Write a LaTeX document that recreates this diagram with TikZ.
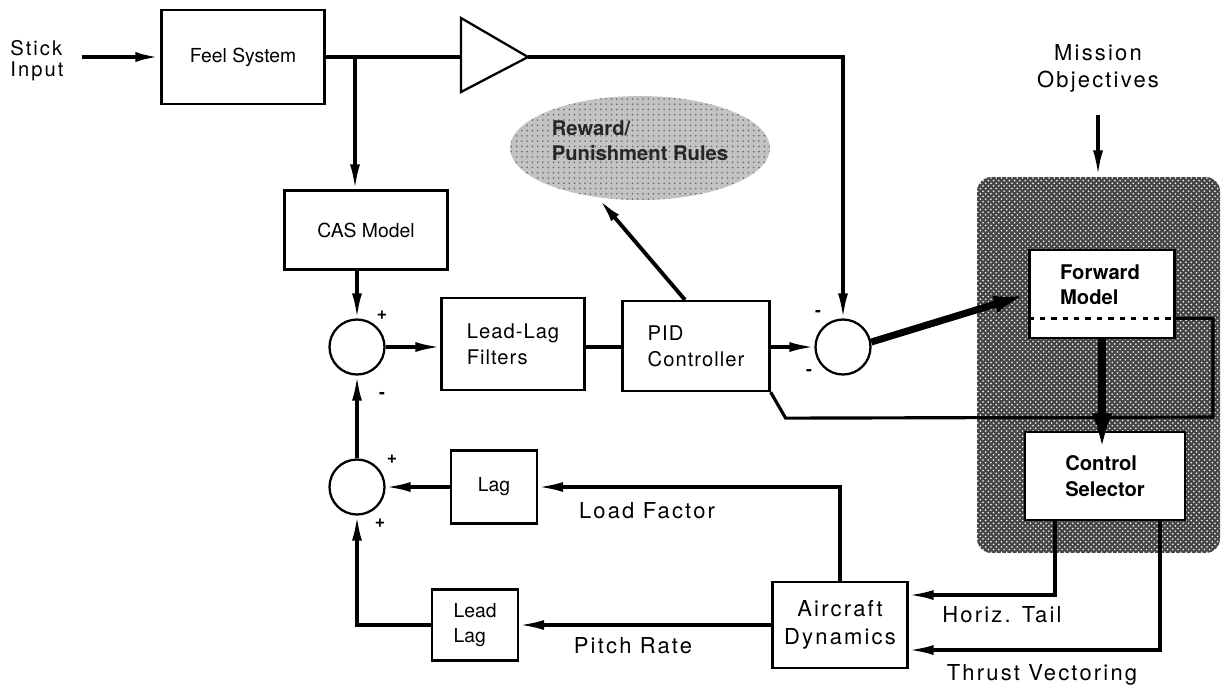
\documentclass[tikz,border=0pt]{standalone}
\usepackage{fontspec}
\setmainfont{TeX Gyre Heros}
\newfontfamily\widefont[LetterSpace=10]{TeX Gyre Heros}
\newfontfamily\boxfont[LetterSpace=5]{TeX Gyre Heros}
\usepackage{tikz}
\usetikzlibrary{arrows.meta,calc,shapes.geometric,patterns}
\definecolor{shadegray}{RGB}{70,70,70}
\definecolor{cloudgray}{RGB}{195,195,195}

\begin{document}
\begin{tikzpicture}[x=0.02cm,y=-0.02cm,>={Latex[length=5mm,width=2mm]},line width=1.8pt,
  blk/.style={draw,line width=1.3pt,inner sep=2pt,font=\fontsize{11}{14}\selectfont},
  sumnode/.style={draw,circle,line width=1.3pt,minimum size=1.1cm,inner sep=0pt},
  sign/.style={inner sep=0pt,font=\bfseries\fontsize{10}{10}\selectfont},
  lbl/.style={inner sep=1pt,font={\fontsize{12.5}{15.4}\widefont}},
  heavy/.style={line width=4pt,-{Latex[length=7mm,width=3.5mm]}}]
\useasboundingbox (0,0) rectangle (1222,684);

% shaded blocks in the back
\node[rectangle,fill=shadegray,rounded corners=8pt,minimum width=4.86cm,minimum height=7.52cm,
  postaction={pattern=crosshatch dots,pattern color=white}] (shade) at (1098.5,365) {};
\node[ellipse,fill=cloudgray,minimum width=5.2cm,minimum height=2.08cm,
  postaction={pattern=dots,pattern color=black!60}] (reward) at (640,148) {};
\node[align=left,font=\bfseries\fontsize{11.5}{14}\selectfont,text=black!85] (rewardtxt) at (640,141) {Reward/\\Punishment Rules};

% forward path
\node[lbl,align=left,font={\fontsize{11.5}{12}\widefont}] (stick) at (37,61) {Stick\\Input};
\node[blk,minimum width=3.26cm,minimum height=1.88cm] (feel) at (243,57) {Feel System};
\draw[line width=1.3pt] (461,18) -- (528,57) -- (461,92) -- cycle;
\coordinate (ampin) at (461,57); \coordinate (ampout) at (528,57);
\coordinate (split) at (355,57);
\node[blk,minimum width=3.26cm,minimum height=1.58cm] (cas) at (366,230) {CAS Model};
\node[sumnode] (sum1) at (357,347) {};
\node[blk,align=left,font={\fontsize{11.5}{15}\boxfont},minimum width=2.86cm,minimum height=1.84cm] (filt) at (513,344) {Lead-Lag\\Filters};
\node[blk,align=left,font={\fontsize{11.5}{15}\boxfont},minimum width=2.94cm,minimum height=1.8cm] (pid) at (696,346) {PID\\Controller};
\node[sumnode] (sum2) at (843,347) {};

% reconfiguration blocks
\node[blk,fill=white,minimum width=2.9cm,minimum height=1.76cm] (fwd) at (1102,294) {};
\node[align=left,font=\bfseries\fontsize{11.5}{14}\selectfont] (fwdtxt) at (1100,285) {Forward\\Model};
\coordinate (dotw) at ($(fwd.south west)!0.23!(fwd.north west)$);
\coordinate (dote) at ($(fwd.south east)!0.23!(fwd.north east)$);
\coordinate (fbr) at (1213,417);
\node[blk,fill=white,align=left,font=\bfseries\fontsize{11.5}{15}\selectfont,
  minimum width=3.2cm,minimum height=1.76cm] (ctrl) at (1105,476) {Control\\Selector};
\node[lbl,align=center] (mission) at (1098,68) {Mission\\Objectives};

% feedback path
\node[blk,align=center,font={\fontsize{12.5}{16}\widefont},minimum width=2.7cm,minimum height=1.72cm] (acdyn) at (840,625) {Aircraft\\Dynamics};
\node[blk,minimum width=1.72cm,minimum height=1.46cm] (lag) at (494,487) {Lag};
\node[blk,align=left,minimum width=1.72cm,minimum height=1.42cm] (ll) at (475,625) {Lead\\Lag};
\node[sumnode] (sum3) at (357,487) {};

% signs
\node[sign] (s1p) at ([shift={(25,-32)}]sum1) {+};
\node[sign] (s1m) at ([shift={(25,48)}]sum1) {-};
\node[sign] (s2ma) at ([shift={(-25,-34)}]sum2) {-};
\node[sign] (s2mb) at ([shift={(-34,25)}]sum2) {-};
\node[sign] (s3pa) at ([shift={(35,-28)}]sum3) {+};
\node[sign] (s3pb) at ([shift={(23,36)}]sum3) {+};

% labels
\node[lbl,anchor=base] (loadf) at (647,518) {Load Factor};
\node[lbl,anchor=base] (pitchr) at (633,653) {Pitch Rate};
\node[lbl,anchor=base] (htail) at (1002,622) {Horiz. Tail};
\node[lbl,anchor=base] (thrust) at (1042,680) {Thrust Vectoring};

% connectors
\draw[->,line width=2.2pt,shorten <=0.3cm] (stick.east |- feel.west) -- (feel.west);
\draw (feel.east) -- (ampin);
\draw[->] (split) -- (split |- cas.north);
\draw[->] (ampout) -| (sum2.north);
\draw[->] (sum1.north |- cas.south) -- (sum1.north);
\draw[->] (sum1.east) -- (sum1.east -| filt.west);
\draw (filt.east |- sum1.east) -- (sum1.east -| pid.west);
\draw[->] (pid.east |- sum2.west) -- (sum2.west);
\draw[->,line width=2.2pt] ([xshift=-0.22cm]pid.north) -- (reward.231);
\draw[heavy] (sum2.10) -- (fwd.west);
\draw (pid.south east) -- ++(15,26) -- (fbr) |- (dote);
\draw[line width=2pt,dash pattern=on 3pt off 3.5pt] (dotw) -- (dote);
\draw[heavy,line width=5pt,-{Latex[length=8mm,width=4mm]},shorten >=-0.45cm] (fwd.south) -- (fwd.south |- ctrl.north);
\draw[->,shorten <=0.4cm] (mission.south) -- (mission.south |- shade.north);
\draw[->] ([xshift=-1cm]ctrl.south) |- ([yshift=0.6cm]acdyn.east);
\draw[->] ([xshift=1.1cm]ctrl.south) |- ([yshift=-0.5cm]acdyn.east);
\draw[->] (acdyn.north) |- (lag.east);
\draw[->] (lag.west) -- (sum3.east);
\draw[->] (acdyn.west) -- (ll.east);
\draw[->] (ll.west) -| (sum3.south);
\draw[->] (sum3.north) -- (sum1.south);
\end{tikzpicture}
\end{document}
